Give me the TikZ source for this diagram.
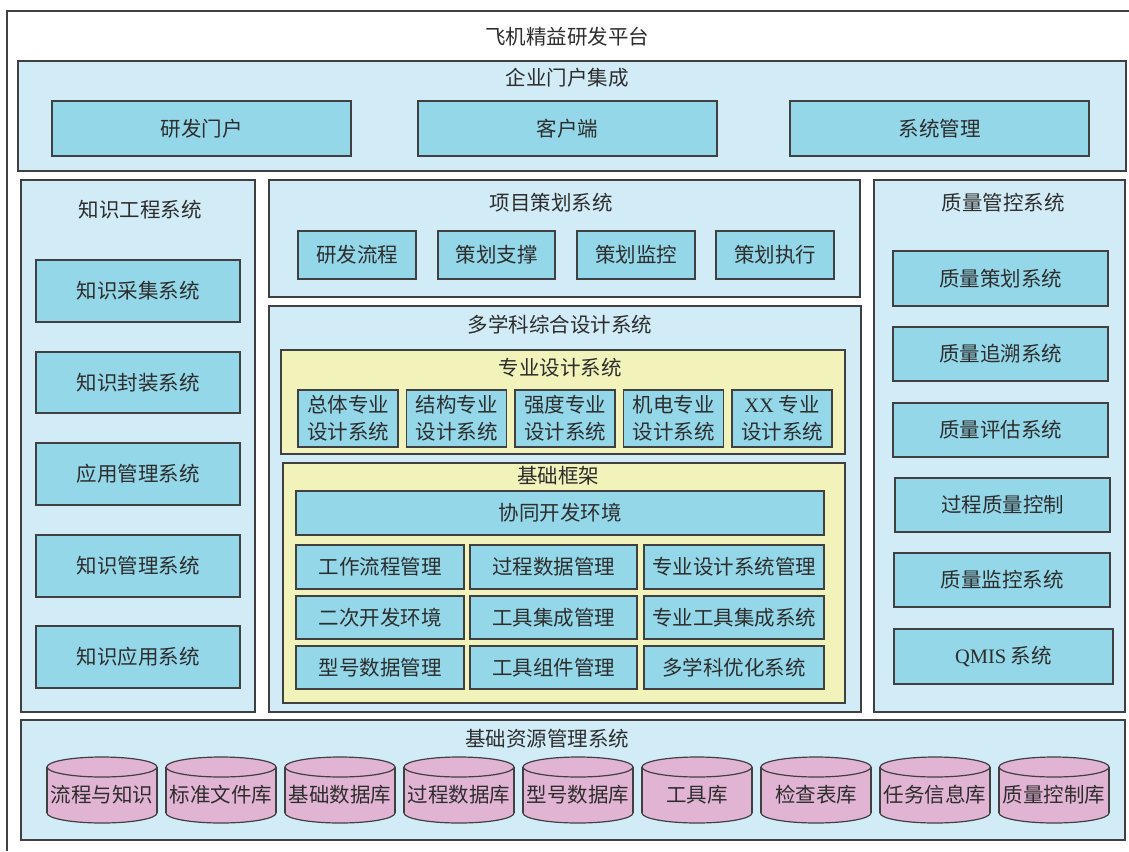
\documentclass[tikz,border=0pt]{standalone}
\usepackage{fontspec}
\setmainfont{Liberation Serif}
\newfontfamily\cjk{Noto Sans CJK SC}
\definecolor{lightbg}{RGB}{210,236,247}
\definecolor{innerbl}{RGB}{147,215,233}
\definecolor{yelbg}{RGB}{242,242,187}
\definecolor{pinkc}{RGB}{226,180,212}
\definecolor{bordc}{RGB}{64,64,64}
\definecolor{txtc}{RGB}{45,45,45}
\newcommand\bx[7]{\node[#1, minimum width={#4-#2}, minimum height={#5-#3}] (#6) at ({(#2+#4)/2},{(#3+#5)/2}) {#7};}
\newcommand\cyl[3]{%
  \fill[pinkc] (#1,767) rectangle ({#1+110},813);
  \fill[pinkc] ({#1+55},813) ellipse [x radius=55, y radius=10];
  \draw[cylline] (#1,767) -- (#1,813);
  \draw[cylline] ({#1+110},767) -- ({#1+110},813);
  \begin{scope}
    \clip ({#1-3},813) rectangle ({#1+113},830);
    \draw[cylline] ({#1+55},813) ellipse [x radius=55, y radius=10];
  \end{scope}
  \filldraw[cylline, fill=pinkc] ({#1+55},767) ellipse [x radius=55, y radius=10];
  \node[lbl] (#2) at ({#1+55},795) {#3};
}
\begin{document}
\begin{tikzpicture}[x=1pt,y=-1pt,
  every node/.style={font=\cjk\fontsize{20.5}{27}\selectfont, text=txtc, inner sep=0pt, outer sep=0pt},
  container/.style={draw=bordc, line width=1.3pt, fill=lightbg},
  ybox/.style={draw=bordc, line width=1.3pt, fill=yelbg},
  ibox/.style={draw=bordc, line width=1.3pt, fill=innerbl, align=center},
  lbl/.style={},
  cylline/.style={draw=bordc, line width=1.2pt}]
\useasboundingbox (0,0) rectangle (1129,851);
\fill[white] (0,0) rectangle (1129,851);
\draw[bordc, line width=1.3pt] (7,851) -- (7,11) -- (1129,11);
\node[lbl] (title) at (567,37) {飞机精益研发平台};

% portal
\bx{container}{18}{61}{1126}{171}{portal}{}
\node[lbl] (portalT) at (567,78) {企业门户集成};
\bx{ibox}{52}{101}{351}{156}{p1}{研发门户}
\bx{ibox}{418}{101}{717}{156}{p2}{客户端}
\bx{ibox}{790}{101}{1089}{156}{p3}{系统管理}

% knowledge engineering
\bx{container}{21}{180}{255}{712}{ke}{}
\node[lbl] (keT) at (140,210) {知识工程系统};
\bx{ibox}{36}{260}{240}{322}{k1}{知识采集系统}
\bx{ibox}{36}{352}{240}{413}{k2}{知识封装系统}
\bx{ibox}{36}{443}{240}{505}{k3}{应用管理系统}
\bx{ibox}{36}{535}{240}{597}{k4}{知识管理系统}
\bx{ibox}{36}{626}{240}{688}{k5}{知识应用系统}

% project planning
\bx{container}{269}{180}{860}{297}{pp}{}
\node[lbl] (ppT) at (551,203) {项目策划系统};
\bx{ibox}{298}{231}{416}{279}{pp1}{研发流程}
\bx{ibox}{438}{231}{555}{279}{pp2}{策划支撑}
\bx{ibox}{577}{231}{695}{279}{pp3}{策划监控}
\bx{ibox}{716}{231}{834}{279}{pp4}{策划执行}

% MDO
\bx{container}{269}{306}{861}{712}{mdo}{}
\node[lbl] (mdoT) at (560,325) {多学科综合设计系统};
\bx{ybox}{281}{350}{845}{454}{prof}{}
\node[lbl] (profT) at (560,368) {专业设计系统};
\bx{ibox}{298}{390}{398}{447}{s1}{总体专业\\设计系统}
\bx{ibox}{406.5}{390}{506.5}{447}{s2}{结构专业\\设计系统}
\bx{ibox}{515}{390}{615}{447}{s3}{强度专业\\设计系统}
\bx{ibox}{623.5}{390}{723.5}{447}{s4}{机电专业\\设计系统}
\bx{ibox}{732}{390}{832}{447}{s5}{{\rmfamily XX} 专业\\设计系统}

\bx{ybox}{283}{463}{845}{703}{base}{}
\node[lbl] (baseT) at (558,476) {基础框架};
\bx{ibox}{296}{491}{824}{535}{collab}{协同开发环境}
\bx{ibox}{296}{545}{464}{589}{g11}{工作流程管理}
\bx{ibox}{470}{545}{637}{589}{g12}{过程数据管理}
\bx{ibox}{644}{545}{824}{589}{g13}{专业设计系统管理}
\bx{ibox}{296}{596}{464}{639}{g21}{二次开发环境}
\bx{ibox}{470}{596}{637}{639}{g22}{工具集成管理}
\bx{ibox}{644}{596}{824}{639}{g23}{专业工具集成系统}
\bx{ibox}{296}{646}{464}{689}{g31}{型号数据管理}
\bx{ibox}{470}{646}{637}{689}{g32}{工具组件管理}
\bx{ibox}{644}{646}{824}{689}{g33}{多学科优化系统}

% quality control
\bx{container}{874}{180}{1125}{712}{qc}{}
\node[lbl] (qcT) at (1003,203) {质量管控系统};
\bx{ibox}{893}{251}{1108}{306}{q1}{质量策划系统}
\bx{ibox}{893}{327}{1108}{381}{q2}{质量追溯系统}
\bx{ibox}{893}{403}{1108}{457}{q3}{质量评估系统}
\bx{ibox}{895}{478}{1110}{532}{q4}{过程质量控制}
\bx{ibox}{894}{553}{1110}{607}{q5}{质量监控系统}
\bx{ibox}{894}{629}{1113}{684}{q6}{{\rmfamily QMIS} 系统}

% resources
\bx{container}{21}{720}{1125}{840}{res}{}
\node[lbl] (resT) at (547,739) {基础资源管理系统};
\cyl{47}{c1}{流程与知识}
\cyl{166}{c2}{标准文件库}
\cyl{285}{c3}{基础数据库}
\cyl{404}{c4}{过程数据库}
\cyl{523}{c5}{型号数据库}
\cyl{642}{c6}{工具库}
\cyl{761}{c7}{检查表库}
\cyl{880}{c8}{任务信息库}
\cyl{999}{c9}{质量控制库}
\end{tikzpicture}
\end{document}
